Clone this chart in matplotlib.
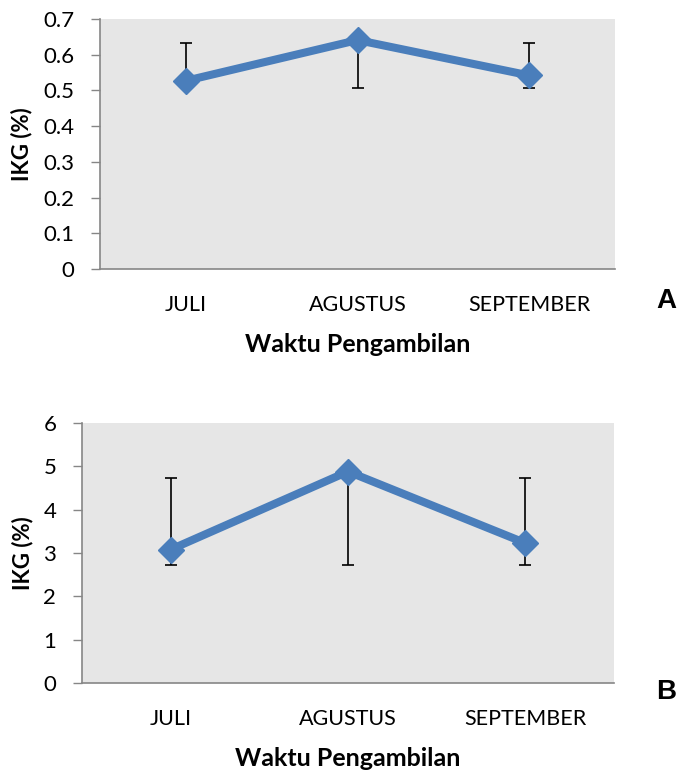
import numpy as np
import matplotlib.pyplot as plt

plt.rcParams['font.family'] = ['Lato', 'DejaVu Sans']

# --- data ---
bulan = ["JULI", "AGUSTUS", "SEPTEMBER"]

ikg_a = [0.527, 0.641, 0.542]
err_a_low = [0.507, 0.507, 0.507]
err_a_high = [0.632, 0.632, 0.632]
yticks_a = [0, 0.1, 0.2, 0.3, 0.4, 0.5, 0.6, 0.7]
yticklabels_a = ["0", "0.1", "0.2", "0.3", "0.4", "0.5", "0.6", "0.7"]

ikg_b = [3.08, 4.88, 3.23]
err_b_low = [2.73, 2.73, 2.73]
err_b_high = [4.73, 4.73, 4.73]
yticks_b = [0, 1, 2, 3, 4, 5, 6]
yticklabels_b = ["0", "1", "2", "3", "4", "5", "6"]

BLUE = "#4a7ebb"
GRID_GREY = "#868686"
W, H = 678, 773


def panel(rect_px, values, lo, hi, yticks, yticklabels, letter, letter_xy):
    l, t, r, b = rect_px
    ax = fig.add_axes([l / W, 1 - b / H, (r - l) / W, (b - t) / H])
    ax.set_facecolor("#e6e6e6")
    x = np.arange(len(values)) + 0.5
    lo, hi = np.array(lo), np.array(hi)
    # error range is drawn from its own low/high ends, independent of the point
    ax.errorbar(x, (lo + hi) / 2, yerr=(hi - lo) / 2, fmt="none", ecolor="black",
                elinewidth=1.2, capsize=4.3, capthick=1.2, zorder=2)
    ax.plot(x, values, color=BLUE, lw=5.8, marker="D", markersize=13.5,
            markerfacecolor=BLUE, markeredgecolor=BLUE, zorder=3)
    ax.set_xlim(0, len(values))
    ax.set_ylim(yticks[0], yticks[-1])
    ax.set_yticks(yticks)
    ax.set_yticklabels(yticklabels, fontsize=16)
    ax.set_xticks(x)
    ax.set_xticklabels(bulan, fontsize=15.5)
    ax.tick_params(axis="y", direction="out", length=6.5, width=1, color=GRID_GREY, pad=12)
    ax.tick_params(axis="x", length=0, pad=19)
    for s in ("top", "right"):
        ax.spines[s].set_visible(False)
    for s in ("left", "bottom"):
        ax.spines[s].set_color(GRID_GREY)
        ax.spines[s].set_linewidth(1.2)
    ax.set_ylabel("IKG (%)", fontsize=16, fontweight="bold")
    ax.set_xlabel("Waktu Pengambilan", fontsize=18, fontweight="bold", labelpad=13)
    fig.text(letter_xy[0] / W, 1 - letter_xy[1] / H, letter, fontsize=20,
             fontweight="bold", family="Liberation Sans", ha="center", va="center")
    return ax


fig = plt.figure(figsize=(W / 100, H / 100), dpi=100)

ax_a = panel((100, 19, 615, 269), ikg_a, err_a_low, err_a_high,
             yticks_a, yticklabels_a, "A", (666, 301))
ax_a.yaxis.set_label_coords(-0.132, 0.5)

ax_b = panel((82, 423, 614, 683), ikg_b, err_b_low, err_b_high,
             yticks_b, yticklabels_b, "B", (666, 692))
ax_b.yaxis.set_label_coords(-0.092, 0.5)

fig.savefig("out.png", dpi=100)
